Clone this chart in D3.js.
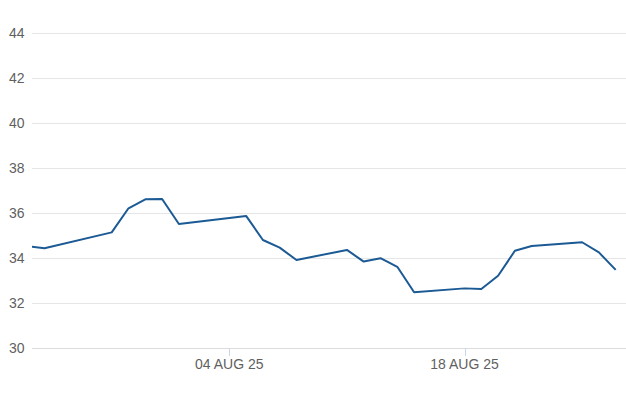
<!DOCTYPE html>
<html>
<head>
<meta charset="utf-8">
<script src="https://cdn.jsdelivr.net/npm/d3@7"></script>
<style>
  html, body { margin: 0; padding: 0; background: #fff; }
  svg { display: block; }
  .lbl { font-family: "Liberation Sans", Arial, sans-serif; font-size: 14px; fill: #5f5f5f; }
</style>
</head>
<body>
<svg id="chart" width="626" height="417"></svg>
<script>
// Data
const dates = [
  "2025-07-23", "2025-07-24", "2025-07-28", "2025-07-29", "2025-07-30", "2025-07-31",
  "2025-08-01", "2025-08-05", "2025-08-06", "2025-08-07", "2025-08-08", "2025-08-11",
  "2025-08-12", "2025-08-13", "2025-08-14", "2025-08-15", "2025-08-18", "2025-08-19",
  "2025-08-20", "2025-08-21", "2025-08-22", "2025-08-25", "2025-08-26", "2025-08-27"
];
const values = [
  34.52, 34.43, 35.14, 36.21, 36.61, 36.62,
  35.51, 35.87, 34.80, 34.46, 33.91, 34.36,
  33.84, 33.99, 33.61, 32.48, 32.65, 32.62,
  33.21, 34.32, 34.53, 34.70, 34.25, 33.47
];
const yTicks = [30, 32, 34, 36, 38, 40, 42, 44];
const xTickDates = ["2025-08-04", "2025-08-18"];
const xTickLabels = ["04 AUG 25", "18 AUG 25"];
const xDomain = ["2025-07-23", "2025-08-28"];

const parse = d3.timeParse("%Y-%m-%d");
const data = dates.map((d, i) => ({ date: parse(d), value: values[i] }));

const svg = d3.select("#chart");
const plotLeft = 32, plotRight = 626, plotTop = 33, plotBottom = 348;

const x = d3.scaleTime()
  .domain(xDomain.map(parse))
  .range([27.7, 27.7 + 36 * 16.8]);
const y = d3.scaleLinear().domain([30, 44]).range([plotBottom, plotTop]);

// grid lines
svg.append("g")
  .selectAll("line")
  .data(yTicks)
  .join("line")
  .attr("x1", plotLeft).attr("x2", plotRight)
  .attr("y1", d => y(d) + 0.5).attr("y2", d => y(d) + 0.5)
  .attr("stroke", d => d === 30 ? "#dcdcdc" : "#e6e6e6")
  .attr("stroke-width", 1);

// y labels
svg.append("g")
  .selectAll("text")
  .data(yTicks)
  .join("text")
  .attr("class", "lbl")
  .attr("x", 24.5)
  .attr("y", d => y(d) + 5)
  .attr("text-anchor", "end")
  .text(d => d);

// x ticks
const xt = svg.append("g");
xt.selectAll("line")
  .data(xTickDates)
  .join("line")
  .attr("x1", d => Math.round(x(parse(d))) + 0.5)
  .attr("x2", d => Math.round(x(parse(d))) + 0.5)
  .attr("y1", plotBottom)
  .attr("y2", plotBottom + 8)
  .attr("stroke", "#ccd6eb");
xt.selectAll("text")
  .data(xTickDates)
  .join("text")
  .attr("class", "lbl")
  .attr("x", d => x(parse(d)))
  .attr("y", 369)
  .attr("text-anchor", "middle")
  .text((d, i) => xTickLabels[i]);

// clip
svg.append("clipPath").attr("id", "clip")
  .append("rect")
  .attr("x", plotLeft).attr("y", 0)
  .attr("width", plotRight - plotLeft).attr("height", 417);

const line = d3.line()
  .x(d => x(d.date))
  .y(d => y(d.value));

svg.append("path")
  .datum(data)
  .attr("clip-path", "url(#clip)")
  .attr("fill", "none")
  .attr("stroke", "#1b5a95")
  .attr("stroke-width", 2)
  .attr("stroke-linejoin", "round")
  .attr("d", line);
</script>
</body>
</html>
